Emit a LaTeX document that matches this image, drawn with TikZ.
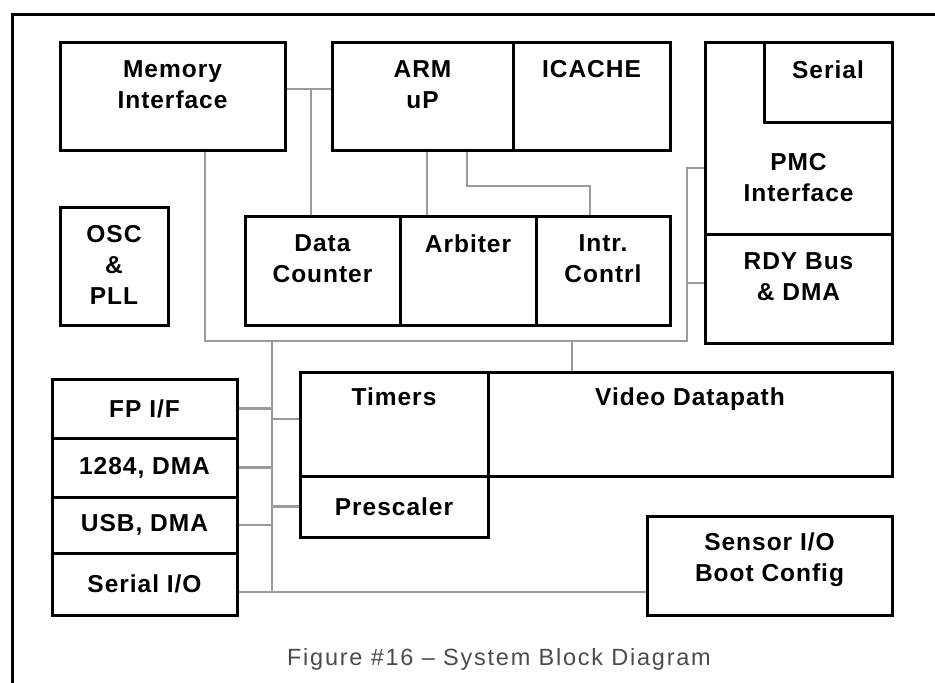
\documentclass[tikz,border=0pt]{standalone}
\usepackage{fontspec}
\setmainfont{Liberation Sans}[LetterSpace=4]
\newfontfamily\capfont{Liberation Sans}[LetterSpace=7.5,Ligatures=TeX]
\usepackage{tikz}
\usetikzlibrary{positioning}
\definecolor{wiregray}{RGB}{155,155,155}
\definecolor{capgray}{RGB}{75,75,75}

\begin{document}
\begin{tikzpicture}[x=1pt,y=-1pt,font=\fontsize{24.5}{31}\selectfont\bfseries,
		blk/.style={draw, line width=3pt, inner sep=0pt, align=center},
		lbl/.style={inner sep=0pt, align=center},
		wire/.style={draw=wiregray, line width=2.5pt},
		figcap/.style={inner sep=0pt, text=capgray, font=\capfont\fontsize{23.5}{28}\selectfont}]
	\useasboundingbox (0,0) rectangle (935,683);
	\draw[line width=3pt] (935,14) -- (12,14) -- (12,683);

	\node[blk, minimum width=225, minimum height=108] (mem) at (172.5,96) {};
	\node[blk, minimum width=181, minimum height=108] (arm) at (422.5,96) {};
	\node[blk, minimum width=157, minimum height=108] (icache) at (591.5,96) {};
	\node[blk, minimum width=108, minimum height=118] (osc) at (114,266) {};
	\node[blk, minimum width=155, minimum height=109] (dc) at (322.5,270.5) {};
	\node[blk, minimum width=136, minimum height=109] (arb) at (468,270.5) {};
	\node[blk, minimum width=134, minimum height=109] (intr) at (603,270.5) {};
	\node[blk, minimum width=187, minimum height=192] (pmc) at (798.5,138) {};
	\node[blk, minimum width=128, minimum height=80] (serial) at (828,82) {};
	\node[blk, minimum width=187, minimum height=109] (rdy) at (798.5,288.5) {};
	\node[blk, minimum width=188, minimum height=104] (timers) at (394,424) {};
	\node[blk, minimum width=404, minimum height=104] (video) at (690,424) {};
	\node[blk, minimum width=188, minimum height=61] (pre) at (394,506.5) {Prescaler};
	\node[blk, minimum width=185, minimum height=59] (fp) at (144.5,408.5) {FP I/F};
	\node[blk, minimum width=185, minimum height=59] (p1284) at (144.5,467.5) {1284, DMA};
	\node[blk, minimum width=185, minimum height=56] (usb) at (144.5,525) {USB, DMA};
	\node[blk, minimum width=185, minimum height=62] (sio) at (144.5,584) {Serial I/O};
	\node[blk, minimum width=245, minimum height=99] (sens) at (769.5,565.5) {};

	\node[lbl, below=19.5pt of mem.north] (memL) {Memory\\Interface};
	\node[lbl, below=19.5pt of arm.north] (armL) {ARM\\uP};
	\node[lbl, below=20pt of icache.north] (icacheL) {ICACHE};
	\node[lbl, below=20pt of serial.north] (serialL) {Serial};
	\node[lbl, below=112.5pt of pmc.north] (pmcL) {PMC\\Interface};
	\node[lbl, below=19.5pt of osc.north] (oscL) {OSC\\\&\\PLL};
	\node[lbl, below=20pt of dc.north] (dcL) {Data\\Counter};
	\node[lbl, below=20pt of arb.north] (arbL) {Arbiter};
	\node[lbl, below=20pt of intr.north] (intrL) {Intr.\\Contrl};
	\node[lbl, below=20pt of rdy.north] (rdyL) {RDY Bus\\\& DMA};
	\node[lbl, below=17.5pt of timers.north] (timersL) {Timers};
	\node[lbl, below=17.5pt of video.north] (videoL) {Video Datapath};
	\node[lbl, below=18.5pt of sens.north] (sensL) {Sensor I/O\\Boot Config};

	\node[figcap, anchor=base] (capt) at (499,665) {Figure \#16 -- System Block Diagram};

	\coordinate (jA) at (311,89);
	\coordinate (busW) at (205,341);
	\coordinate (busE) at (687,341);
	\coordinate (busT) at (272,341);
	\coordinate (busB) at (272,592);
	\coordinate (vidin) at (572,341);
	\coordinate (pmcin) at (687,168);
	\coordinate (rdyin) at (687,283);
	\coordinate (intbend) at (467,186);

	\draw[wire] ([yshift=7pt]mem.east) -- ([yshift=7pt]arm.west);
	\draw[wire] (jA) -- (jA |- dc.north);
	\draw[wire] (busW |- mem.south) -- (busW) -- (busE) -- (pmcin) -- (pmcin -| pmc.west);
	\draw[wire] (rdyin) -- (rdyin -| rdy.west);
	\draw[wire] (vidin) -- (vidin |- video.north);
	\draw[wire] ([xshift=4.5pt]arm.south) -- ([xshift=4.5pt]arm.south |- arb.north);
	\draw[wire] (intbend |- arm.south) -- (intbend) -| ([xshift=-13pt]intr.north);
	\draw[wire] (busT) -- (busB);
	\draw[wire] (fp.east) -- (fp.east -| busT);
	\draw[wire] (p1284.east) -- (p1284.east -| busT);
	\draw[wire] (usb.east) -- (usb.east -| busT);
	\draw[wire] ([yshift=5pt]timers.west) -- ([yshift=5pt]timers.west -| busT);
	\draw[wire] (pre.west) -- (pre.west -| busT);
	\draw[wire] (sio.east |- busB) -- (sens.west |- busB);
\end{tikzpicture}
\end{document}
